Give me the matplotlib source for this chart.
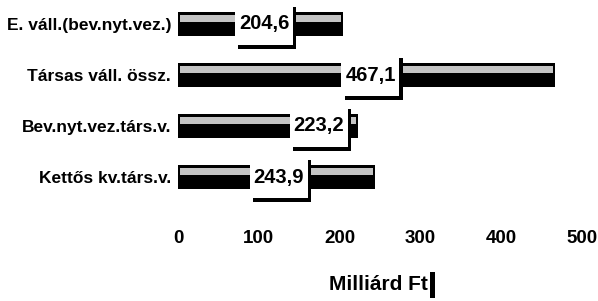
import matplotlib
matplotlib.use("Agg")
import matplotlib.pyplot as plt
from matplotlib.patches import Rectangle
from matplotlib.transforms import ScaledTranslation

categories = ["E. váll.(bev.nyt.vez.)", "Társas váll. össz.", "Bev.nyt.vez.társ.v.", "Kettős kv.társ.v."]
values = [204.6, 467.1, 223.2, 243.9]
value_labels = ["204,6", "467,1", "223,2", "243,9"]
label_frac = [0.52, 0.51, 0.78, 0.51]   # where the value box sits along each bar
xticks = [0, 100, 200, 300, 400, 500]
xlabel = "Milliárd Ft"

FONT = "Liberation Sans"
W, H, DPI = 598, 301, 100
fig = plt.figure(figsize=(W / DPI, H / DPI), dpi=DPI)
left_px, right_px = 178, 582
top_px, bot_px = 0, 215
ax = fig.add_axes([left_px / W, 1 - bot_px / H, (right_px - left_px) / W, (bot_px - top_px) / H])

n = len(categories)
ypos = list(range(n - 1, -1, -1))
row_px = 51.0
ax.set_xlim(0, 500)
ax.set_ylim(0 - (bot_px - 177) / row_px, (n - 1) + 24 / row_px)

ax.barh(ypos, values, height=0.48, color="black", left=0, zorder=2)
ax.barh([y + 0.1 for y in ypos], [v - 6 for v in values], left=3, height=0.14,
        color="#c4c4c4", zorder=3)

px_x = (right_px - left_px) / 500.0
bw = 58 / px_x
bh = 42 / row_px
shadow = ax.transData + ScaledTranslation(3.5 / DPI, -3.5 / DPI, fig.dpi_scale_trans)
for y, v, lab, f in zip(ypos, values, value_labels, label_frac):
    xc = v * f
    ax.add_patch(Rectangle((xc - bw / 2, y - bh / 2), bw, bh, transform=shadow,
                           fc="black", ec="none", zorder=4))
    ax.add_patch(Rectangle((xc - bw / 2, y - bh / 2), bw, bh,
                           fc="white", ec="none", zorder=5))
    ax.text(xc, y, lab, ha="center", va="center", fontsize=14.5, fontweight="bold",
            family=FONT, zorder=6)

ax.set_yticks(ypos)
ax.set_yticklabels(categories, fontsize=12.5, fontweight="bold", family=FONT)
ax.set_xticks(xticks)
ax.set_xticklabels([str(t) for t in xticks], fontsize=13.5, fontweight="bold", family=FONT)
ax.tick_params(axis="x", length=0, pad=11)
ax.tick_params(axis="y", length=0, pad=5)
for s in ax.spines.values():
    s.set_visible(False)

fig.text(378 / W, 1 - 285 / H, xlabel, ha="center", va="center", fontsize=15,
         fontweight="bold", family=FONT)
fig.patches.append(Rectangle((430 / W, 1 - 298 / H), 5 / W, 26 / H,
                             transform=fig.transFigure, fc="black", ec="none"))

fig.savefig("out.png", dpi=DPI, facecolor="white")
